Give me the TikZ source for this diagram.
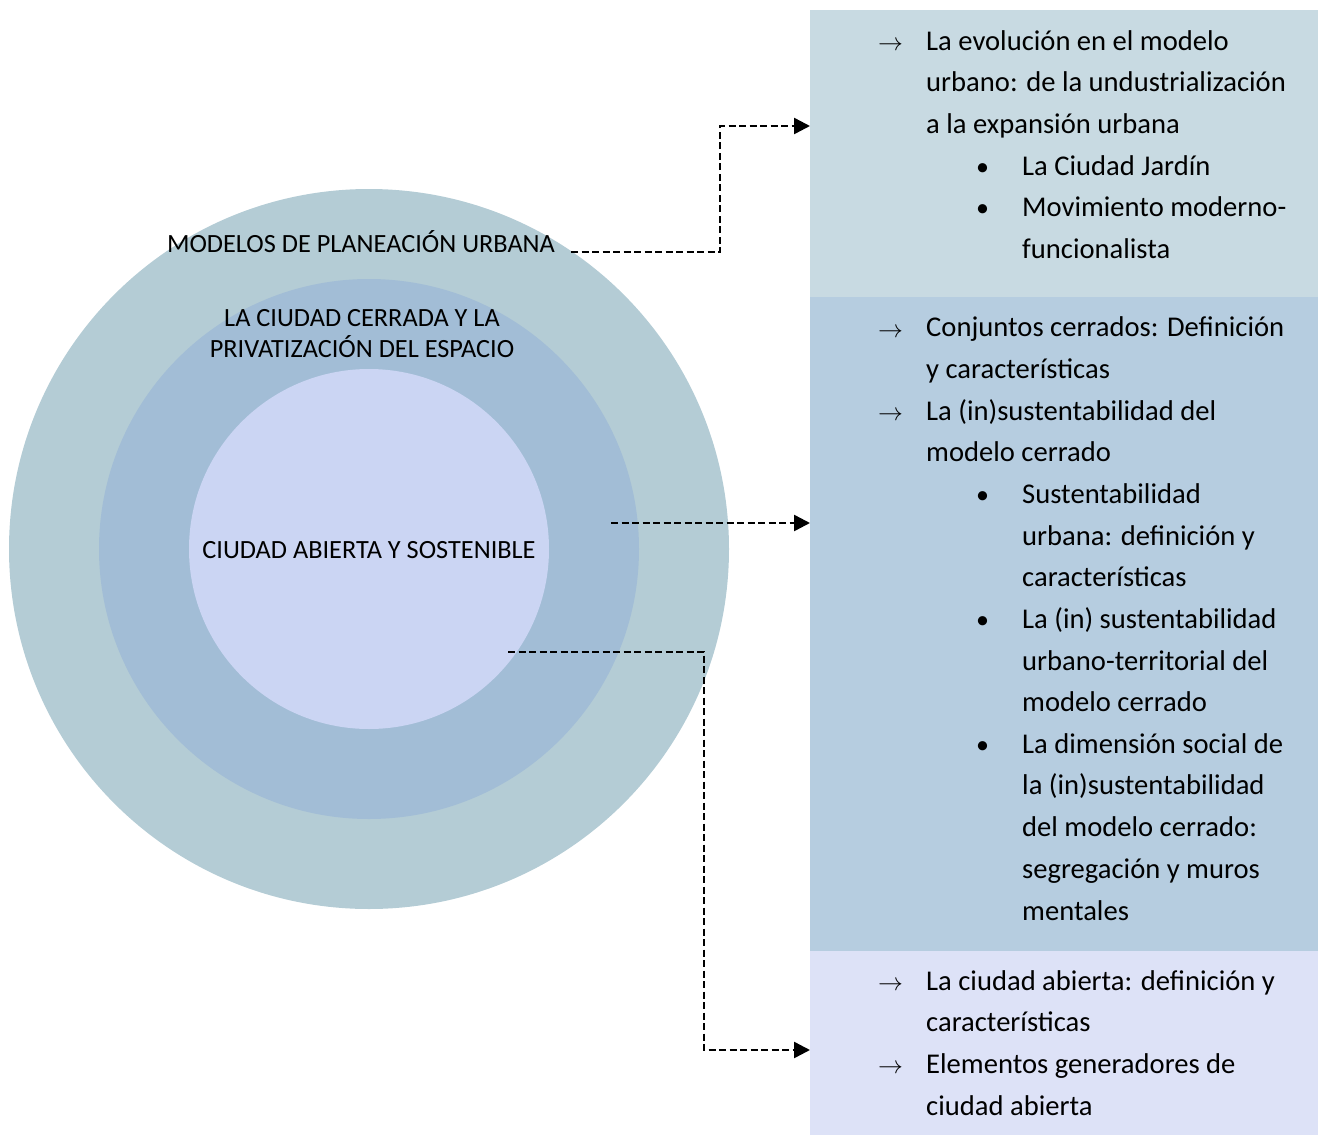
\documentclass[tikz,border=0pt]{standalone}
\usepackage{fontspec}
\setmainfont{Carlito}
\usetikzlibrary{arrows.meta,positioning}
\definecolor{ringout}{RGB}{180,204,213}
\definecolor{ringmid}{RGB}{162,189,214}
\definecolor{ringin}{RGB}{203,213,243}
\definecolor{panelA}{RGB}{200,218,226}
\definecolor{panelB}{RGB}{182,205,224}
\definecolor{panelC}{RGB}{221,226,247}

\begin{document}
\begin{tikzpicture}[x=1pt, y=-1pt,
  ring/.style={circle, inner sep=0pt, minimum size=#1},
  panel/.style={rectangle, inner sep=0pt, anchor=north west, minimum width=508pt},
  ringlabel/.style={anchor=base, align=center, inner sep=0pt, font=\fontsize{26.3}{30.5}\selectfont},
  item/.style={anchor=base west, inner sep=0pt, yshift=-3pt, align=left, font=\fontsize{28.6}{41.7}\selectfont},
  sym/.style={anchor=base west, inner sep=0pt, yshift=-3pt, font=\fontsize{26}{41.7}\selectfont},
  arr/.style={sym, font=\fontsize{31}{41.7}\selectfont},
  link/.style={-{Triangle[length=16pt, width=16pt]}, line width=2.5pt, dash pattern=on 7pt off 3.5pt},
]
  \useasboundingbox (0,0) rectangle (1318,1135);

  % rings
  \node[ring=720pt, fill=ringout] (outer) at (369,549) {};
  \node[ring=540pt, fill=ringmid] (middle) at (369,549) {};
  \node[ring=360pt, fill=ringin] (inner) at (369,549) {};

  \node[ringlabel] (lmod) at (361,252) {MODELOS DE PLANEACIÓN URBANA};
  \node[ringlabel] (lcer) at (362,357) {LA CIUDAD CERRADA Y LA\\PRIVATIZACIÓN DEL ESPACIO};
  \node[ringlabel] (lab) at (369,558.5) {CIUDAD ABIERTA Y SOSTENIBLE};

  % panels
  \node[panel, fill=panelA, minimum height=287pt] (pA) at (810,10) {};
  \node[panel, fill=panelB, minimum height=654pt] (pB) at (810,297) {};
  \node[panel, fill=panelC, minimum height=184pt] (pC) at (810,951) {};

  % top panel (items sit on the baseline of their last line)
  \node[arr] (a1) at (878,47) {$\rightarrow$};
  \node[item] (t1) at (926,130.4) {La evolución en el modelo\\urbano: de la undustrialización\\a la expansión urbana};
  \node[sym] (b1) at (976,172.1) {\textbullet};
  \node[item] (s1) at (1022,172.1) {La Ciudad Jardín};
  \node[sym] (b2) at (976,213.8) {\textbullet};
  \node[item] (s2) at (1022,255.5) {Movimiento moderno-\\funcionalista};

  % middle panel
  \node[arr] (a2) at (878,334) {$\rightarrow$};
  \node[item] (t2) at (926,375.6) {Conjuntos cerrados: Definición\\y características};
  \node[arr] (a3) at (878,417.3) {$\rightarrow$};
  \node[item] (t3) at (926,458.9) {La (in)sustentabilidad del\\modelo cerrado};
  \node[sym] (b3) at (976,500.6) {\textbullet};
  \node[item] (s3) at (1022,583.9) {Sustentabilidad\\urbana: definición y\\características};
  \node[sym] (b4) at (976,625.5) {\textbullet};
  \node[item] (s4) at (1022,708.8) {La (in) sustentabilidad\\urbano-territorial del\\modelo cerrado};
  \node[sym] (b5) at (976,750.4) {\textbullet};
  \node[item] (s5) at (1022,917) {La dimensión social de\\la (in)sustentabilidad\\del modelo cerrado:\\segregación y muros\\mentales};

  % bottom panel
  \node[arr] (a4) at (878,987) {$\rightarrow$};
  \node[item] (t4) at (926,1028.7) {La ciudad abierta: definición y\\características};
  \node[arr] (a5) at (878,1070.4) {$\rightarrow$};
  \node[item] (t5) at (926,1112.1) {Elementos generadores de\\ciudad abierta};

  % connectors
  \draw[link] ([xshift=16pt]lmod.base east) -- ++(149,0) |- (pA.west |- 0,126);
  \draw[link] (611,523) -- (pB.west |- 0,523);
  \draw[link] (508,652) -| (704,1050) -- (pC.west |- 0,1050);
\end{tikzpicture}
\end{document}
